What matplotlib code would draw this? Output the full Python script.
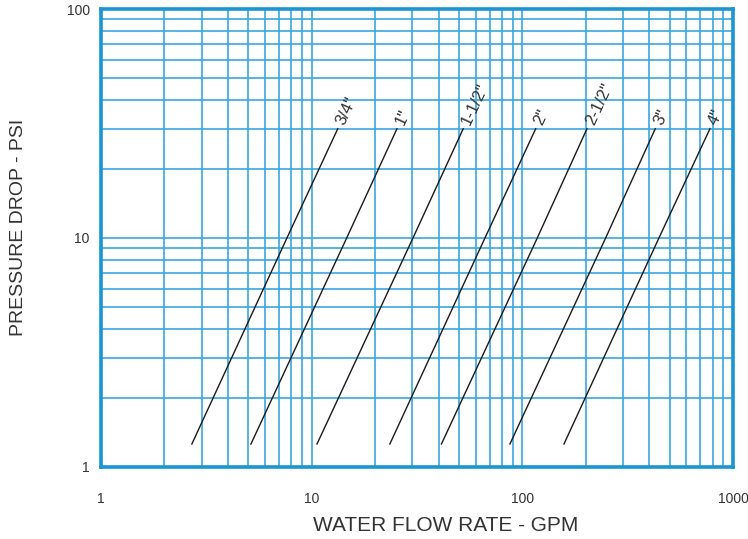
import matplotlib
matplotlib.use("Agg")
import matplotlib.pyplot as plt
from matplotlib.ticker import FixedLocator, NullFormatter, FixedFormatter

plt.rcParams['font.family'] = ['Liberation Sans', 'DejaVu Sans']

# Pressure drop points (PSI) at which flow was read for each pipe size
pressure = [1.26, 10, 30]

sizes = ['3/4"', '1"', '1-1/2"', '2"', '2-1/2"', '3"', '4"']
flow_34 = [2.70, 7.63, 13.3]
flow_1 = [5.15, 14.66, 25.4]
flow_112 = [10.6, 30.26, 52.4]
flow_2 = [23.5, 66.45, 115.7]
flow_212 = [41.3, 117.7, 202.6]
flow_3 = [87.3, 248.5, 427.4]
flow_4 = [157.6, 444.9, 777.0]
flows = [flow_34, flow_1, flow_112, flow_2, flow_212, flow_3, flow_4]

x_ticks = [1, 10, 100, 1000]
x_ticklabels = ['1', '10', '100', '1000']
y_ticks = [1, 10, 100]
y_ticklabels = ['1', '10', '100']

fig = plt.figure(figsize=(7.48, 5.39), dpi=100)
ax = fig.add_axes([0.135, 0.1336, 0.845, 0.8497])
ax.set_xscale('log')
ax.set_yscale('log')
ax.set_xlim(1, 1000)
ax.set_ylim(1, 100)

grid_color = '#3aa7df'
frame_color = '#1b95d3'

minor_x = [m * d for d in (1, 10, 100) for m in range(2, 10)]
minor_y = [m * d for d in (1, 10) for m in range(2, 10)]
ax.xaxis.set_major_locator(FixedLocator(x_ticks))
ax.xaxis.set_major_formatter(FixedFormatter(x_ticklabels))
ax.yaxis.set_major_locator(FixedLocator(y_ticks))
ax.yaxis.set_major_formatter(FixedFormatter(y_ticklabels))
ax.xaxis.set_minor_locator(FixedLocator(minor_x))
ax.yaxis.set_minor_locator(FixedLocator(minor_y))
ax.xaxis.set_minor_formatter(NullFormatter())
ax.yaxis.set_minor_formatter(NullFormatter())

ax.grid(True, which='both', color=grid_color, lw=1.2, zorder=1)
ax.set_axisbelow(True)
ax.tick_params(which='both', length=0, colors='#333333', labelsize=10)
ax.tick_params(axis='x', pad=18)
ax.tick_params(axis='y', pad=8)

for s in ax.spines.values():
    s.set_color(frame_color)
    s.set_linewidth(2.6)

for name, fl in zip(sizes, flows):
    ax.plot(fl, pressure, color='#1a1a1a', lw=1.0, zorder=3)
    ax.annotate(name, xy=(fl[-1], pressure[-1]), xytext=(2, 3),
                textcoords='offset points', rotation=65,
                rotation_mode='anchor', ha='left', va='center',
                fontsize=12, color='#333333')

ax.set_xlabel('WATER FLOW RATE - GPM', fontsize=15, color='#333333')
ax.set_ylabel('PRESSURE DROP - PSI', fontsize=14, color='#333333')
ax.xaxis.set_label_coords(0.546, -0.107)
ax.yaxis.set_label_coords(-0.117, 0.524)

fig.savefig('out.png', dpi=100)
